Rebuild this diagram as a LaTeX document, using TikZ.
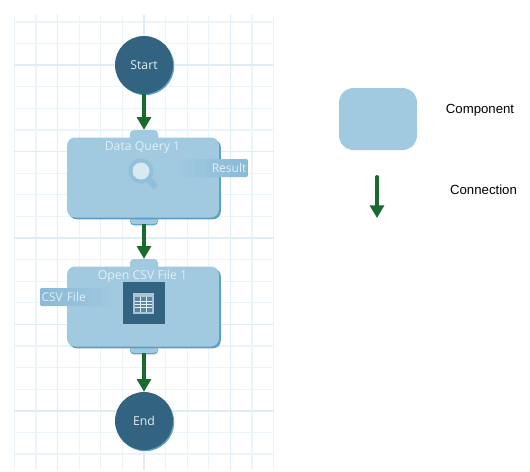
\documentclass[tikz,border=0pt]{standalone}
\usepackage{fontspec}
\setmainfont{Open Sans}
\newfontfamily\legendfont{Liberation Sans}
\usetikzlibrary{arrows.meta,shadows}
\definecolor{panel}{RGB}{161,201,223}
\definecolor{panel edge}{RGB}{92,158,198}
\definecolor{tagblue}{RGB}{136,186,215}
\definecolor{deep}{RGB}{50,99,128}
\definecolor{deep edge}{RGB}{95,160,200}
\definecolor{pale}{RGB}{226,239,246}
\definecolor{leaf}{RGB}{24,107,44}
\definecolor{lines}{RGB}{234,244,249}
\definecolor{lines strong}{RGB}{224,237,245}
\newcommand{\px}{0.75pt}
\tikzset{
  conn/.style={-{Triangle[width=10.5pt,length=9.5pt]},line width=3pt,draw=leaf},
  terminal/.style={circle,fill=deep,text=pale,minimum size=58*\px,inner sep=0pt,
    font=\fontsize{9.2}{11}\selectfont,
    general shadow={shadow xshift=0.9pt,shadow yshift=-0.9pt,fill=deep edge}},
  comp/.style={fill=panel,rounded corners=6pt,minimum width=152*\px,minimum height=80*\px,inner sep=0pt,
    general shadow={shadow xshift=1.4pt,shadow yshift=-1.4pt,fill=panel edge}},
  lug/.style={fill=panel,rounded corners=3pt,minimum width=28*\px,minimum height=12*\px,inner sep=0pt,
    general shadow={shadow xshift=0pt,shadow yshift=-1pt,fill=panel edge}},
  title/.style={text=pale,font=\fontsize{9.2}{11}\selectfont,inner sep=0pt},
  port/.style={rounded corners=1pt,minimum height=18*\px,inner sep=1pt,text=pale,
    font=\fontsize{9}{11}\selectfont},
  legend/.style={font=\legendfont\fontsize{9.9}{12}\selectfont,text=black,inner sep=0pt},
  % pictograms
  pics/lens/.style={code={
    \draw[line width=5pt,draw=#1] (8,9) -- (15,16.5);
    \fill[#1] (0,0) circle (12.5);
    \fill[pale!85!panel] (0,0) circle (8.5);
  }},
  pics/lens/.default=tagblue!60!panel,
  pics/sheet/.style={code={
    \fill[#1] (-21,-21) rectangle (21,21);
    \fill[pale!70!#1] (-10.5,-10.5) rectangle (10.5,10.5);
    \fill[#1!65!panel] (-8.5,-6) rectangle (8.5,8.5);
    \foreach \x in {-3,3} \draw[pale,line width=0.6pt] (\x,-6) -- (\x,8.5);
    \foreach \y in {-2,1,4} \draw[pale,line width=0.5pt] (-8.5,\y) -- (8.5,\y);
  }},
  pics/sheet/.default=deep,
}

\begin{document}
\begin{tikzpicture}[x=\px,y=-\px]
    \useasboundingbox (0,0) rectangle (530,471);
    % grid
    \foreach \x in {14.4,36,79.2,100.8,122.4,165.6,187.2,208.8,252,273.6}
      \draw[lines,line width=0.9pt] (\x,15) -- (\x,470);
    \foreach \y in {22,43.6,86.8,108.4,130,173.2,194.8,216.4,259.6,281.2,302.8,346,367.6,389.2,432.4,454}
      \draw[lines,line width=0.9pt] (14,\y) -- (274,\y);
    \foreach \x in {57.6,144,230.4}
      \draw[lines strong,line width=1.2pt] (\x,15) -- (\x,470);
    \foreach \y in {65.2,151.6,238,324.4,410.8}
      \draw[lines strong,line width=1.2pt] (14,\y) -- (274,\y);

    \node[terminal] (start) at (144,65) {Start};
    \node[terminal] (end) at (144,421) {End};

    % first component
    \node[lug] (querytop) at (144,136) {};
    \node[lug] (querybot) at (144,218) {};
    \node[comp] (query) at (143,177.5) {};
    \node[title] (querytitle) at (142.5,148) {Data Query 1};
    \node[port,left color=panel,right color=tagblue,minimum width=70*\px,text width=50pt,align=right] (result) at (213,168) {Result};
    \pic at (141,171) {lens};

    % second component
    \node[lug] (opentop) at (144,265) {};
    \node[lug] (openbot) at (144,347) {};
    \node[comp] (open) at (143,306.5) {};
    \node[title] (opentitle) at (142.5,276.5) {Open CSV File 1};
    \node[port,left color=tagblue,right color=panel,minimum width=75*\px,text width=54pt,align=left] (csvfile) at (77.5,297) {CSV File};
    \pic at (143.5,303) {sheet};

    \draw[conn] (start) -- (querytop);
    \draw[conn] (querybot) -- (opentop);
    \draw[conn] (openbot) -- (end);

    % legend
    \node[fill=panel,rounded corners=11pt,minimum width=78*\px,minimum height=62*\px,inner sep=0pt] (legendcomp) at (378,119) {};
    \node[legend] (legendcomptext) at (480,110) {Component};
    \coordinate (legendfrom) at (377,177);
    \coordinate (legendto) at (377,218);
    \draw[conn,line cap=round] (legendfrom) -- (legendto);
    \node[legend] (legendconntext) at (483.5,189.5) {Connection};
\end{tikzpicture}
\end{document}
